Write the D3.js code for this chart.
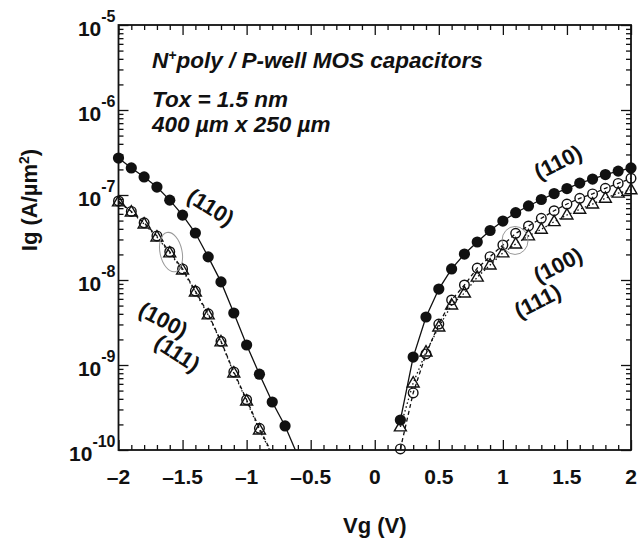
<!DOCTYPE html>
<html lang="en">
<head>
<meta charset="UTF-8">
<title>Ig - Vg, N+poly / P-well MOS capacitors</title>
<script src="https://d3js.org/d3.v7.min.js"></script>
<style>
  body { margin: 0; background: #fff; }
  svg text { font-family: "Liberation Sans", Arial, Helvetica, sans-serif; font-weight: bold; fill: #111; }
</style>
</head>
<body>
<script>
const w = 638;
const h = 544;
const plot = { left: 118.5, right: 631, top: 25, bottom: 450 };

// negative gate bias (accumulation side)
const vgNeg110 = [-2.0, -1.9, -1.8, -1.7, -1.6, -1.5, -1.4, -1.3, -1.2, -1.1, -1.0, -0.9, -0.8, -0.7, -0.6];
const igNeg110 = [2.72e-7, 2.08e-7, 1.63e-7, 1.24e-7, 8.7e-8, 5.8e-8, 3.57e-8, 1.87e-8, 9.5e-9, 4.09e-9, 1.72e-9, 7.8e-10, 3.67e-10, 1.92e-10, 8.5e-11];
const vgNeg = [-2.0, -1.9, -1.8, -1.7, -1.6, -1.5, -1.4, -1.3, -1.2, -1.1, -1.0, -0.9, -0.8];
const igNeg100 = [8.5e-8, 6.4e-8, 4.7e-8, 3.3e-8, 2.15e-8, 1.35e-8, 7.4e-9, 4.0e-9, 1.9e-9, 8.3e-10, 3.9e-10, 1.8e-10, 9.0e-11];
const igNeg111 = [8.28e-8, 6.3e-8, 4.56e-8, 3.2e-8, 2.08e-8, 1.31e-8, 7.22e-9, 3.88e-9, 1.87e-9, 8.05e-10, 3.77e-10, 1.72e-10, 8.7e-11];

// positive gate bias (inversion side)
const vgPos = [0.2, 0.3, 0.4, 0.5, 0.6, 0.7, 0.8, 0.9, 1.0, 1.1, 1.2, 1.3, 1.4, 1.5, 1.6, 1.7, 1.8, 1.9, 2.0];
const igPos110 = [2.25e-10, 1.24e-9, 3.67e-9, 7.83e-9, 1.35e-8, 2.02e-8, 2.8e-8, 3.82e-8, 4.94e-8, 6.19e-8, 7.43e-8, 8.85e-8, 1.04e-7, 1.19e-7, 1.38e-7, 1.54e-7, 1.74e-7, 1.91e-7, 2.08e-7];
const igPos100 = [1.03e-10, 4.69e-10, 1.35e-9, 3.03e-9, 5.82e-9, 8.73e-9, 1.38e-8, 1.88e-8, 2.58e-8, 3.54e-8, 4.32e-8, 5.32e-8, 6.53e-8, 7.83e-8, 9.14e-8, 1.03e-7, 1.2e-7, 1.37e-7, 1.57e-7];
const igPos111 = [1.87e-10, 6.14e-10, 1.42e-9, 2.8e-9, 5.08e-9, 7.03e-9, 1.08e-8, 1.5e-8, 2.08e-8, 2.65e-8, 3.3e-8, 3.95e-8, 4.85e-8, 5.82e-8, 6.79e-8, 7.83e-8, 9.14e-8, 1.05e-7, 1.15e-7];

const xTickValues = [-2, -1.5, -1, -0.5, 0, 0.5, 1, 1.5, 2];
const xTickLabels = ["\u20132", "\u20131.5", "\u20131", "\u20130.5", "0", "0.5", "1", "1.5", "2"];
const yDecades = [-10, -9, -8, -7, -6, -5];

const curveLabels = [
    { text: "(110)", v: -1.28, ig: 7.2e-8, angle: 32 },
    { text: "(100)", v: -1.65, ig: 3.4e-9, angle: 28 },
    { text: "(111)", v: -1.54, ig: 1.38e-9, angle: 33 },
    { text: "(110)", v: 1.43, ig: 2.44e-7, angle: -27 },
    { text: "(100)", v: 1.43, ig: 1.5e-8, angle: -27 },
    { text: "(111)", v: 1.27, ig: 5.66e-9, angle: -27 }
];

const x = d3.scaleLinear().domain([-2, 2]).range([plot.left, plot.right]);
const y = d3.scaleLog().domain([1e-10, 1e-5]).range([plot.bottom, plot.top]);

const svg = d3.select("body").append("svg")
    .attr("width", w)
    .attr("height", h);

svg.append("defs").append("clipPath").attr("id", "clip")
    .append("rect")
    .attr("x", plot.left).attr("y", plot.top)
    .attr("width", plot.right - plot.left).attr("height", plot.bottom - plot.top);

// ticks: all inside the frame, on all four sides
const xMinor = d3.range(-20, 21).map(d => d / 10).filter(d => Math.abs(d * 2 - Math.round(d * 2)) > 1e-6);
const yMinor = [];
yDecades.slice(0, -1).forEach(e => { for (let k = 2; k <= 9; k++) yMinor.push(k * Math.pow(10, e)); });
const yMajor = yDecades.map(e => Math.pow(10, e));

function addAxis(axis, tx, ty) {
    const g = svg.append("g").attr("transform", `translate(${tx},${ty})`).call(axis);
    g.select(".domain").remove();
    g.selectAll("line").attr("stroke", "#111").attr("stroke-width", 1.3);
    g.selectAll("text").remove();
}
addAxis(d3.axisBottom(x).tickValues(xTickValues).tickSize(-10), 0, plot.bottom);
addAxis(d3.axisBottom(x).tickValues(xMinor).tickSize(-5), 0, plot.bottom);
addAxis(d3.axisTop(x).tickValues(xTickValues).tickSize(-10), 0, plot.top);
addAxis(d3.axisTop(x).tickValues(xMinor).tickSize(-5), 0, plot.top);
addAxis(d3.axisLeft(y).tickValues(yMajor).tickSize(-10), plot.left, 0);
addAxis(d3.axisLeft(y).tickValues(yMinor).tickSize(-5), plot.left, 0);
addAxis(d3.axisRight(y).tickValues(yMajor).tickSize(-10), plot.right, 0);
addAxis(d3.axisRight(y).tickValues(yMinor).tickSize(-5), plot.right, 0);

svg.append("rect")
    .attr("x", plot.left).attr("y", plot.top)
    .attr("width", plot.right - plot.left).attr("height", plot.bottom - plot.top)
    .attr("fill", "none").attr("stroke", "#111").attr("stroke-width", 1.8);

// tick labels
svg.append("g").selectAll("text")
    .data(xTickValues)
    .enter().append("text")
    .attr("x", d => x(d))
    .attr("y", plot.bottom + 34)
    .attr("text-anchor", "middle")
    .style("font-size", "21px")
    .text((d, i) => xTickLabels[i]);

const yLab = svg.append("g").selectAll("text")
    .data(yDecades)
    .enter().append("text")
    .attr("x", plot.left - 3)
    .attr("y", d => y(Math.pow(10, d)) + 11)
    .attr("text-anchor", "end")
    .style("font-size", "21px");
yLab.append("tspan").text("10");
yLab.append("tspan").attr("dy", -14).style("font-size", "16px").text(d => "-" + (-d));

// axis titles
svg.append("text")
    .attr("x", (plot.left + plot.right) / 2)
    .attr("y", 533)
    .attr("text-anchor", "middle")
    .style("font-size", "22px")
    .text("Vg (V)");

const yTitle = svg.append("text")
    .attr("transform", "translate(37,200) rotate(-90)")
    .attr("text-anchor", "middle")
    .style("font-size", "22px");
yTitle.append("tspan").text("Ig (A/\u00b5m");
yTitle.append("tspan").attr("dy", -8).style("font-size", "14px").text("2");
yTitle.append("tspan").attr("dy", 8).text(")");

// curves
const toPts = (vs, is) => vs.map((v, i) => ({ v: v, ig: is[i] }));
const series = [
    { pts: toPts(vgNeg110, igNeg110), dash: null, marker: "dot" },
    { pts: toPts(vgNeg, igNeg100), dash: "4,3", marker: "circle" },
    { pts: toPts(vgNeg, igNeg111), dash: "1.5,2.5", marker: "tri" },
    { pts: toPts(vgPos, igPos110), dash: null, marker: "dot" },
    { pts: toPts(vgPos, igPos100), dash: "4,3", marker: "circle" },
    { pts: toPts(vgPos, igPos111), dash: "1.5,2.5", marker: "tri" }
];

const line = d3.line().x(d => x(d.v)).y(d => y(d.ig));
const curves = svg.append("g").attr("clip-path", "url(#clip)");

series.forEach(s => {
    curves.append("path")
        .datum(s.pts)
        .attr("d", line)
        .attr("fill", "none")
        .attr("stroke", "#111")
        .attr("stroke-width", 1.3)
        .attr("stroke-dasharray", s.dash);
});

const tri = d3.symbol().type(d3.symbolTriangle).size(62);
series.forEach(s => {
    const shown = s.pts.filter(d => d.ig >= 0.97e-10);
    const g = svg.append("g");
    if (s.marker === "dot") {
        g.selectAll("circle").data(shown).enter().append("circle")
            .attr("cx", d => x(d.v)).attr("cy", d => y(d.ig)).attr("r", 5.6)
            .attr("fill", "#111");
    } else if (s.marker === "circle") {
        g.selectAll("circle").data(shown).enter().append("circle")
            .attr("cx", d => x(d.v)).attr("cy", d => y(d.ig)).attr("r", 4.8)
            .attr("fill", "none").attr("stroke", "#111").attr("stroke-width", 1.4);
    } else {
        g.selectAll("path").data(shown).enter().append("path")
            .attr("d", tri)
            .attr("transform", d => `translate(${x(d.v)},${y(d.ig) + 0.5})`)
            .attr("fill", "none").attr("stroke", "#111").attr("stroke-width", 1.4);
    }
});

// grey ellipses picking out the (100)/(111) pairs
svg.append("ellipse")
    .attr("cx", x(-1.59)).attr("cy", y(2.13e-8))
    .attr("rx", 11).attr("ry", 20)
    .attr("transform", `rotate(-12,${x(-1.59)},${y(2.13e-8)})`)
    .attr("fill", "none").attr("stroke", "#999").attr("stroke-width", 1);
svg.append("ellipse")
    .attr("cx", x(1.095)).attr("cy", y(2.92e-8))
    .attr("rx", 13).attr("ry", 14)
    .attr("fill", "none").attr("stroke", "#999").attr("stroke-width", 1);

// curve labels
svg.append("g").selectAll("text")
    .data(curveLabels)
    .enter().append("text")
    .attr("transform", d => `translate(${x(d.v)},${y(d.ig)}) rotate(${d.angle})`)
    .attr("text-anchor", "middle")
    .attr("dy", "0.35em")
    .style("font-size", "22px")
    .text(d => d.text);

// header notes
const notes = svg.append("g").style("font-style", "italic").style("font-size", "22.5px");
const n1 = notes.append("text").attr("x", 152).attr("y", 68);
n1.append("tspan").text("N");
n1.append("tspan").attr("dy", -8).style("font-size", "14px").text("+");
n1.append("tspan").attr("dy", 8).text("poly / P-well MOS capacitors");
notes.append("text").attr("x", 152).attr("y", 107).text("Tox = 1.5 nm");
notes.append("text").attr("x", 152).attr("y", 132).text("400 \u00b5m x 250 \u00b5m");
</script>
</body>
</html>
